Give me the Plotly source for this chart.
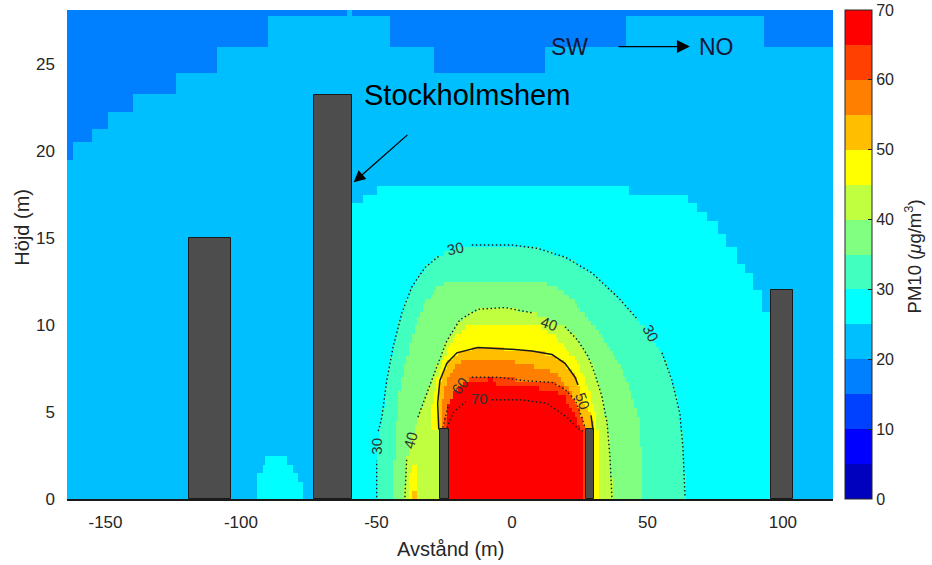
import numpy as np
import plotly.graph_objects as go

# ---------------- data ----------------
# PM10 colour classes (µg/m3) and the 14-colour jet palette
LEVELS = [0, 5, 10, 15, 20, 25, 30, 35, 40, 45, 50, 55, 60, 65, 70]
JET14 = ['#0000bf', '#0000ff', '#0040ff', '#0080ff', '#00bfff', '#00ffff', '#40ffbf',
         '#80ff80', '#bfff40', '#ffff00', '#ffbf00', '#ff8000', '#ff4000', '#ff0000']
BACKGROUND_CLASS = 4          # 20-25 µg/m3 everywhere else

# class regions (outline vertices in metres: distance, height)
TOP15_X = [-166, -166, -162.1, -162.1, -155.0, -155.0, -148.7, -148.7, -139.8, -139.8, -123.6, -123.6,
           -108.8, -108.8, -90.0, -90.0, -61.0, -61.0, -59.1, -59.1, -45.0, -45.0, -29.2, -29.2,
           12.2, 12.2, 42.5, 42.5, 92.7, 92.7, 120, 120]
TOP15_Y = [29, 19.5, 19.5, 20.6, 20.6, 21.3, 21.3, 22.2, 22.2, 23.2, 23.2, 24.5,
           24.5, 25.9, 25.9, 27.7, 27.7, 29, 29, 27.7, 27.7, 26.0, 26.0, 24.5,
           24.5, 26.0, 26.0, 27.7, 27.7, 26.0, 26.0, 29]

DOME25_X = [-59.5, -59.5, -55.4, -55.4, -49.8, -49.8, 42.8, 42.8, 64.6, 64.6, 68.3, 68.3, 72.0, 72.0,
            75.7, 75.7, 78.7, 78.7, 83.1, 83.1, 86.0, 86.0, 89.0, 89.0, 92.3, 92.3, 97, 97]
DOME25_Y = [0, 17.07, 17.07, 17.6, 17.6, 18.05, 18.05, 17.6, 17.6, 17.1, 17.1, 16.6, 16.6, 16.0,
            16.0, 15.2, 15.2, 14.4, 14.4, 13.6, 13.6, 13.0, 13.0, 12.0, 12.0, 10.7, 10.7, 0]

BUMP25_X = [-94.3, -94.3, -93.7, -93.7, -92.4, -92.4, -91.2, -91.2, -83.2, -83.2, -80.8, -80.8,
            -78.9, -78.9, -77.1, -77.1]
BUMP25_Y = [0, 0.92, 0.92, 1.49, 1.49, 2.07, 2.07, 2.53, 2.53, 2.07, 2.07, 1.49, 1.49, 0.92, 0.92, 0]

C30_FILL_X = [-49.9, -49.9, -49.5, -48.0, -46.2, -43.9, -40.6, -36.9, -32.1, -26.6, -21.0, -14.8, 0.0,
              9.6, 19.6, 29.5, 39.1, 46.5, 51.0, 55.4, 59.1, 62.0, 63.1, 63.9]
C30_FILL_Y = [0, 2.1, 3.2, 4.7, 6.8, 8.7, 10.7, 12.2, 13.3, 14.0, 14.4, 14.6, 14.6,
              14.4, 13.9, 13.0, 11.6, 10.3, 9.4, 8.4, 6.8, 4.9, 3.0, 0]

C35_FILL_X = [-44.5, -42.8, -41.4, -38.8, -35.8, -32.1, -27.3, -21.8, 7.4, 14.8, 20.3, 24.4, 31.8,
              38.0, 42.8, 46.5, 47.8, 48.3]
C35_FILL_Y = [0, 4.0, 6.3, 8.2, 9.9, 11.3, 12.2, 12.6, 12.6, 12.3, 11.8, 11.05, 9.7,
              8.2, 6.7, 4.7, 2.4, 0]

C40_FILL_X = [-39.8, -38.8, -37.0, -34.7, -31.0, -27.7, -24.0, -19.2, -12.6, -2.6, 7.4, 13.7, 19.6,
              24.4, 28.1, 30.6, 33.2, 35.1, 36.2, 36.9]
C40_FILL_Y = [0, 2.4, 3.6, 4.7, 6.3, 7.6, 9.1, 10.3, 10.9, 11.0, 10.7, 10.3, 9.9,
              9.1, 8.2, 7.2, 5.9, 4.4, 2.4, 0]

C45_FILL_X = [-25.0, -25.0, -29.5, -29.5, -27.5, -25.0, -22.0, -19.0, -15.0, 9.6, 14.8, 19.6, 24.4,
              28.1, 30.6, 32.3, 32.5]
C45_FILL_Y = [0, 3.9, 4.1, 5.5, 7.0, 8.2, 9.1, 9.7, 10.0, 10.0, 9.5, 8.8, 7.7,
              6.4, 5.0, 3.0, 0]
COLUMN45_X = [-37.6, -37.6, -37.0, -35.4, -34.7, -34.7]
COLUMN45_Y = [0, 1.5, 2.1, 2.1, 1.5, 0]
SPOT50_X = [-37.0, -37.0, -35.2, -35.2]
SPOT50_Y = [0, 0.6, 0.6, 0]

C50_FILL_X = [-25.0, -25.0, -27.0, -27.4, -26.6, -24.0, -20.3, -12.6, 0.0, 7.4, 14.8, 19.6, 23.3,
              26.2, 29.2, 29.9, 29.0]
C50_FILL_Y = [0, 3.9, 4.0, 5.5, 6.8, 7.8, 8.4, 8.7, 8.6, 8.5, 8.3, 7.8, 7.0,
              5.6, 4.8, 4.0, 0]

C55_FILL_X = [-25.0, -25.0, -25.8, -25.8, -24.5, -21.5, -17.5, -5.0, 0.0, 6.0, 12.0, 17.0, 21.0,
              24.5, 26.8, 27.5]
C55_FILL_Y = [0, 4.0, 4.2, 5.5, 6.6, 7.5, 8.1, 8.1, 7.9, 7.7, 7.5, 7.1, 6.3,
              5.2, 4.2, 0]

C60_FILL_X = [-24.5, -25.5, -23.6, -19.2, -14.8, -5.2, 4.8, 14.8, 19.6, 23.3, 25.8, 27.0, 27.5]
C60_FILL_Y = [0, 4.1, 5.3, 6.55, 7.0, 7.0, 6.8, 6.7, 6.3, 5.7, 4.7, 4.1, 0]

C65_FILL_X = [-24.0, -24.0, -23.5, -21.0, -16.0, -7.0, -5.0, 8.0, 15.0, 19.6, 23.3, 25.8, 26.5]
C65_FILL_Y = [0, 4.0, 5.5, 6.3, 6.8, 6.9, 6.5, 6.4, 6.3, 5.9, 4.7, 4.0, 0]

# contour lines (None = gap where the label sits)
C30_X = [-49.9, -49.9, None, -49.3, -48.0, -46.2, -43.9, -40.6, -36.9, -32.1, -26.6, None,
         -14.8, 0.0, 9.6, 19.6, 29.5, 39.1, 46.5, None, 55.4, 59.1, 62.0, 63.1, 63.9]
C30_Y = [0.1, 2.2, None, 3.9, 4.7, 6.8, 8.7, 10.7, 12.2, 13.3, 14.0, None,
         14.6, 14.6, 14.4, 13.9, 13.0, 11.6, 10.3, None, 8.4, 6.8, 4.9, 3.0, 0.1]
C40_X = [-39.5, -38.8, None, -34.7, -31.0, -27.7, -24.0, -19.2, -12.6, -2.6, 7.4, None,
         19.6, 24.4, 28.1, 30.6, 33.2, 35.1, 36.2, 36.9]
C40_Y = [0.1, 2.4, None, 4.7, 6.3, 7.6, 9.1, 10.3, 10.9, 11.0, 10.7, None,
         9.9, 9.1, 8.2, 7.2, 5.9, 4.4, 2.4, 0.1]
C50_X = [-27.0, -27.4, -26.6, -24.0, -20.3, -12.6, 0.0, 7.4, 14.8, 19.6, 23.3, 24.4, None, 29.2, 29.9]
C50_Y = [4.0, 5.5, 6.8, 7.8, 8.4, 8.7, 8.6, 8.5, 8.3, 7.8, 7.0, 6.55, None, 4.8, 4.0]
C60_X = [-25.5, -23.6, None, -14.8, -5.2, 4.8, 14.8, 19.6, 23.3, 25.8, 27.0]
C60_Y = [4.1, 5.3, None, 7.0, 7.0, 6.8, 6.7, 6.3, 5.7, 4.7, 4.1]
C70_X = [-24.0, -21.5, -17.0, None, -7.4, 3.0, 12.9, 20.3, 24.0, 26.2]
C70_Y = [4.1, 5.0, 5.6, None, 5.7, 5.7, 5.5, 4.7, 4.1, 3.9]

LABEL_TEXT = ['30', '30', '30', '40', '40', '50', '60', '70']
LABEL_X = [-49.9, -21.0, 51.3, -37.3, 13.7, 26.2, -19.2, -11.8]
LABEL_Y = [3.05, 14.4, 9.5, 3.4, 10.1, 5.6, 6.55, 5.8]
LABEL_ANGLE = [-90, -12, 62, -75, 20, 70, -50, 0]

# buildings: left edge, right edge, height (m)
BLD_X0 = [-119.2, -73.0, -26.6, 27.3, 95.8]
BLD_X1 = [-103.6, -59.1, -23.3, 30.4, 103.6]
BLD_H = [15.0, 23.2, 4.0, 4.0, 12.0]

X_TICKS = [-150, -100, -50, 0, 50, 100]
X_TICK_TEXT = ['-150', '-100', '-50', '0', '50', '100']
Y_TICKS = [0, 5, 10, 15, 20, 25]
CB_TICKS = [0, 10, 20, 30, 40, 50, 60, 70]

# ---------------- build the raster field ----------------
x_edges = np.arange(-165, 119.01, 1.0)
y_edges = np.arange(0, 28.26, 0.25)
xc = (x_edges[:-1] + x_edges[1:]) / 2
yc = (y_edges[:-1] + y_edges[1:]) / 2
PX, PY = np.meshgrid(xc, yc)


def inside(xs, ys):
    res = np.zeros(PX.shape, bool)
    n = len(xs)
    j = n - 1
    for i in range(n):
        xi, yi, xj, yj = xs[i], ys[i], xs[j], ys[j]
        if yi != yj:
            cross = ((yi > PY) != (yj > PY)) & (PX < (xj - xi) * (PY - yi) / (yj - yi) + xi)
            res ^= cross
        j = i
    return res


cls = np.full(PX.shape, BACKGROUND_CLASS)
regions = [
    (TOP15_X, TOP15_Y, 3), (DOME25_X, DOME25_Y, 5), (BUMP25_X, BUMP25_Y, 5),
    (C30_FILL_X, C30_FILL_Y, 6), (C35_FILL_X, C35_FILL_Y, 7), (C40_FILL_X, C40_FILL_Y, 8),
    (C45_FILL_X, C45_FILL_Y, 9), (COLUMN45_X, COLUMN45_Y, 9), (SPOT50_X, SPOT50_Y, 10),
    (C50_FILL_X, C50_FILL_Y, 10), (C55_FILL_X, C55_FILL_Y, 11), (C60_FILL_X, C60_FILL_Y, 12),
    (C65_FILL_X, C65_FILL_Y, 13),
]
for xs, ys, k in regions:
    cls[inside(xs, ys)] = k
z = np.array(LEVELS)[cls] + 2.5

colorscale = []
for i, c in enumerate(JET14):
    colorscale.append([i / 14, c])
    colorscale.append([(i + 1) / 14, c])

FONT = "Liberation Sans, Arial, sans-serif"
TXT = "#262626"

fig = go.Figure()
fig.add_trace(go.Heatmap(
    x=x_edges, y=y_edges, z=z, zmin=0, zmax=70, colorscale=colorscale, hoverinfo="skip",
    colorbar=dict(
        x=1.0157, xanchor="left", xpad=0, y=0.5, yanchor="middle", ypad=0, len=1, lenmode="fraction",
        thickness=27, outlinecolor=TXT, outlinewidth=1, tickmode="array", tickvals=CB_TICKS,
        ticktext=[str(v) for v in CB_TICKS], ticks="inside", ticklen=4, ticklabeloverflow="allow",
        tickcolor=TXT, tickfont=dict(family=FONT, size=16, color=TXT),
    ),
))

fig.add_trace(go.Bar(
    x=[(a + b) / 2 for a, b in zip(BLD_X0, BLD_X1)], y=BLD_H,
    width=[b - a for a, b in zip(BLD_X0, BLD_X1)], base=0,
    marker=dict(color="#4d4d4d", line=dict(color="#1a1a1a", width=1)),
    hoverinfo="skip", showlegend=False,
))

for cx, cy, dash in [(C30_X, C30_Y, "1.5px,2.5px"), (C40_X, C40_Y, "1.5px,2.5px"),
                     (C50_X, C50_Y, "solid"), (C60_X, C60_Y, "1.5px,2.5px"),
                     (C70_X, C70_Y, "1.5px,2.5px")]:
    fig.add_trace(go.Scatter(x=cx, y=cy, mode="lines", connectgaps=False,
                             line=dict(color="#1a1a1a", width=1.5 if dash == "solid" else 1.4, dash=dash),
                             hoverinfo="skip", showlegend=False))

ann = []
for t, lx, ly, a in zip(LABEL_TEXT, LABEL_X, LABEL_Y, LABEL_ANGLE):
    ann.append(dict(x=lx, y=ly, xref="x", yref="y", text=t, showarrow=False, textangle=a,
                    font=dict(family=FONT, size=15, color="#333333")))

ann += [
    dict(x=-55.4, y=23.2, xref="x", yref="y", text="Stockholmshem", showarrow=False,
         xanchor="left", yanchor="middle", font=dict(family=FONT, size=29, color="black")),
    dict(x=-58.4, y=18.2, xref="x", yref="y", ax=-38.0, ay=21.0, axref="x", ayref="y", text="",
         showarrow=True, arrowhead=2, arrowsize=1.8, arrowwidth=1.3, arrowcolor="black"),
    dict(x=13.7, y=26.0, xref="x", yref="y", text="SW", showarrow=False, xanchor="left",
         yanchor="middle", font=dict(family=FONT, size=23, color="#16163a")),
    dict(x=65.7, y=26.0, xref="x", yref="y", ax=38.8, ay=26.0, axref="x", ayref="y", text="",
         showarrow=True, arrowhead=2, arrowsize=2.0, arrowwidth=1.3, arrowcolor="black"),
    dict(x=68.3, y=26.0, xref="x", yref="y", text="NO", showarrow=False, xanchor="left",
         yanchor="middle", font=dict(family=FONT, size=23, color="#16163a")),
    dict(x=0.5, y=-0.102, xref="paper", yref="paper", text="Avstånd (m)", showarrow=False,
         yanchor="middle", font=dict(family=FONT, size=20, color=TXT)),
    dict(x=-0.058, y=0.556, xref="paper", yref="paper", text="Höjd (m)", showarrow=False,
         textangle=-90, xanchor="center", yanchor="middle", font=dict(family=FONT, size=20, color=TXT)),
    dict(x=1.105, y=0.497, xref="paper", yref="paper", text="PM10 (<i>μ</i>g/m<sup>3</sup>)",
         showarrow=False, textangle=-90, xanchor="center", yanchor="middle",
         font=dict(family=FONT, size=18.5, color=TXT)),
]

fig.update_layout(
    width=932, height=565, margin=dict(l=67, r=99, t=10, b=66),
    paper_bgcolor="white", plot_bgcolor="white", showlegend=False,
    annotations=ann, bargap=0, hovermode=False,
    xaxis=dict(range=[-164.2, 118.5], tickvals=X_TICKS, ticktext=X_TICK_TEXT, showgrid=False,
               zeroline=False, showline=True, linecolor="#1a1a1a", linewidth=2, ticks="",
               ticklabelstandoff=7, tickfont=dict(family=FONT, size=17, color=TXT)),
    yaxis=dict(range=[0, 28.1], tickvals=Y_TICKS, showgrid=False, zeroline=False, showline=False,
               ticks="", ticklabelstandoff=11, tickfont=dict(family=FONT, size=17, color=TXT)),
)

# remove the browser's default 8 px page margin so the figure fills the window exactly
fig.write_html("out.html", config={"displayModeBar": False},
               post_script="document.body.style.margin='0';document.body.style.overflow='hidden';")
